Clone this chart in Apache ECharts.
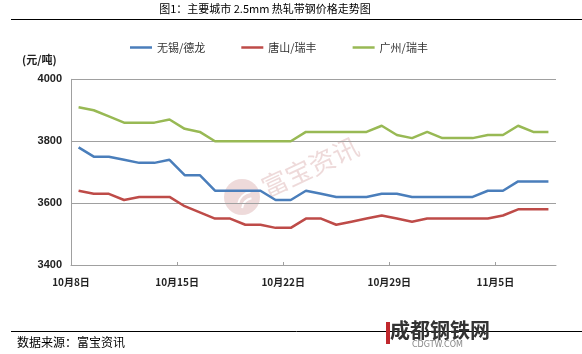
<!DOCTYPE html>
<html><head><meta charset="utf-8">
<script src="https://cdn.jsdelivr.net/npm/echarts@6/dist/echarts.min.js"></script>
<style>html,body{margin:0;padding:0;background:#fff}#c{width:582px;height:354px}</style>
</head><body><div id="c"></div>
<script>
const dates = ['10月8日','10月9日','10月10日','10月11日','10月12日','10月13日','10月14日','10月15日','10月16日','10月17日','10月18日','10月19日','10月20日','10月21日','10月22日','10月23日','10月24日','10月25日','10月26日','10月27日','10月28日','10月29日','10月30日','10月31日','11月1日','11月2日','11月3日','11月4日','11月5日','11月6日','11月7日','11月8日'];
const tickLabels = ['10月8日','10月15日','10月22日','10月29日','11月5日'];
const seriesNames = ['无锡/德龙','唐山/瑞丰','广州/瑞丰'];
const wuxi = [3780,3750,3750,3740,3730,3730,3740,3690,3690,3640,3640,3640,3640,3610,3610,3640,3630,3620,3620,3620,3630,3630,3620,3620,3620,3620,3620,3640,3640,3670,3670,3670];
const tangshan = [3640,3630,3630,3610,3620,3620,3620,3590,3570,3550,3550,3530,3530,3520,3520,3550,3550,3530,3540,3550,3560,3550,3540,3550,3550,3550,3550,3550,3560,3580,3580,3580];
const guangzhou = [3910,3900,3880,3860,3860,3860,3870,3840,3830,3800,3800,3800,3800,3800,3800,3830,3830,3830,3830,3830,3850,3820,3810,3830,3810,3810,3810,3820,3820,3850,3830,3830];
const yTicks = [3400,3600,3800,4000];
const colors = ['#4a7ebb','#be4b48','#98b954'];

const tickPos = tickLabels.map(l => dates.indexOf(l));
const toPts = arr => arr.map((v,i) => [i + 0.5, v]);

const chart = echarts.init(document.getElementById('c'), null, {renderer:'canvas'});
const gray = '#a0a0a0';
chart.setOption({
  animation:false,
  backgroundColor:'#fff',
  color:colors,
  grid:{left:71,right:26,top:79.3,bottom:89,containLabel:false},
  legend:{
    data:seriesNames, left:125, top:37, icon:'rect', itemWidth:22, itemHeight:2.5, itemGap:36,
    textStyle:{fontSize:11,color:'#333',fontFamily:'Noto Sans CJK SC'}
  },
  xAxis:{
    type:'value', min:0, max:dates.length, interval:7,
    axisLine:{lineStyle:{color:gray,width:1}},
    axisTick:{show:true,inside:true,length:3,lineStyle:{color:gray},customValues:tickPos},
    axisLabel:{customValues:tickPos,margin:12,fontSize:10,fontWeight:'bold',color:'#222',fontFamily:'Noto Sans CJK SC',
      formatter:v => tickPos.includes(v) ? dates[v] : ''},
    splitLine:{show:false}
  },
  yAxis:{
    type:'value', min:yTicks[0], max:yTicks[yTicks.length-1], interval:200,
    axisLine:{show:true,lineStyle:{color:gray,width:1}},
    axisTick:{show:false},
    axisLabel:{margin:9,fontSize:11,fontWeight:'bold',color:'#222',fontFamily:'Liberation Sans',formatter:v => String(v)},
    splitLine:{lineStyle:{color:gray,width:1}}
  },
  series:[
    {name:seriesNames[0],type:'line',data:toPts(wuxi),symbol:'none',lineStyle:{width:2.5},z:3},
    {name:seriesNames[1],type:'line',data:toPts(tangshan),symbol:'none',lineStyle:{width:2.5},z:3},
    {name:seriesNames[2],type:'line',data:toPts(guangzhou),symbol:'none',lineStyle:{width:2.5},z:3}
  ],
  graphic:[
    {type:'text',x:265,y:9,style:{text:'图1：主要城市 2.5mm 热轧带钢价格走势图',fontSize:11,fill:'#000',textAlign:'center',textVerticalAlign:'middle',fontFamily:'Noto Sans CJK SC'}},
    {type:'line',shape:{x1:11,y1:19.5,x2:582,y2:19.5},style:{stroke:'#000',lineWidth:1}},
    {type:'text',x:22,y:54,style:{text:'(元/吨)',fontSize:11,fontWeight:'bold',fill:'#222',fontFamily:'Noto Sans CJK SC'}},
    {type:'line',shape:{x1:11,y1:331.5,x2:582,y2:331.5},style:{stroke:'#000',lineWidth:1}},
    {type:'text',x:17,y:336,style:{text:'数据来源：富宝资讯',fontSize:12,fill:'#000',fontFamily:'Noto Sans CJK SC'}},
    {type:'group',z:1,children:[
      {type:'circle',shape:{cx:242,cy:197,r:18},style:{fill:'rgba(205,150,150,0.35)'}},
      {type:'arc',shape:{cx:252,cy:206,r:14,startAngle:3.3,endAngle:4.6},style:{stroke:'#fff',lineWidth:2,fill:null}},
      {type:'arc',shape:{cx:254,cy:210,r:12,startAngle:3.3,endAngle:4.5},style:{stroke:'#fff',lineWidth:2,fill:null}},
      {type:'text',x:310,y:167,rotation:0.44,style:{text:'富宝资讯',fontSize:26,fill:'rgba(205,150,150,0.35)',textAlign:'center',textVerticalAlign:'middle',fontFamily:'Noto Sans CJK SC'}}
    ]},
    {type:'rect',shape:{x:386,y:322,width:4,height:22},style:{fill:'#c0282d'}},
    {type:'text',x:390,y:320,style:{text:'成都钢铁网',fontSize:20,fontWeight:'bold',fill:'#333',fontFamily:'Noto Sans CJK SC'}},
    {type:'text',x:412,y:341,style:{text:'CDGTW.COM',fontSize:8,fill:'#888',fontFamily:'DejaVu Sans'}}
  ]
});
</script></body></html>
